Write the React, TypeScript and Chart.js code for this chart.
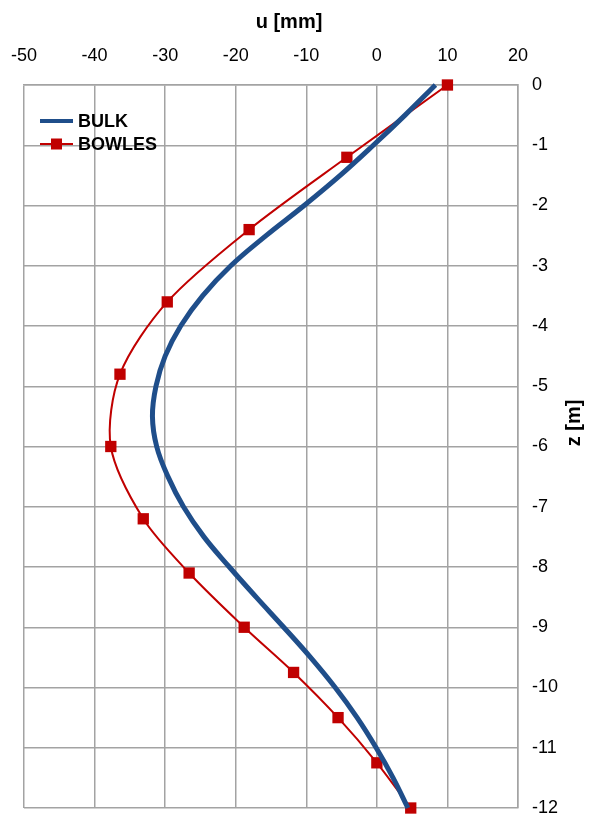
import React, { useEffect, useRef } from "react";
import { Chart, registerables } from "chart.js";

Chart.register(...registerables);

// ---- data ----
const X_TITLE = "u [mm]";
const Y_TITLE = "z [m]";
const BULK_LABEL = "BULK";
const BOWLES_LABEL = "BOWLES";

const X_MIN = -50;
const X_MAX = 20;
const X_STEP = 10;
const Z_MIN = -12;
const Z_MAX = 0;
const Z_STEP = 1;

const bulkZ = [0, -0.5, -1, -1.5, -2, -2.5, -3, -3.5, -4, -4.5, -5, -5.5, -6, -6.5, -7, -7.5, -8, -8.5, -9, -9.5, -10, -10.5, -11, -11.5, -12];
const bulkU = [8.3, 4.0, -0.5, -5.2, -10.3, -15.7, -20.7, -24.7, -27.8, -30.0, -31.3, -31.8, -31.2, -29.6, -27.4, -24.5, -20.9, -17.1, -13.2, -9.4, -5.9, -2.8, -0.1, 2.3, 4.4];

const bowlesZ = [0, -1.2, -2.4, -3.6, -4.8, -6.0, -7.2, -8.1, -9.0, -9.75, -10.5, -11.25, -12];
const bowlesU = [10, -4.25, -18.1, -29.7, -36.4, -37.7, -33.1, -26.6, -18.8, -11.8, -5.5, 0, 4.8];

// ---- styles ----
const BLUE = "#1f4e8a";
const RED = "#c00000";
const GRID = "#a3a3a3";
const FONT = "'Liberation Sans', Arial, sans-serif";

const overlay = {
  id: "overlay",
  afterDraw(chart: any) {
    const ctx = chart.ctx as CanvasRenderingContext2D;
    const a = chart.chartArea;
    ctx.save();
    ctx.fillStyle = "#000";
    ctx.font = `bold 20px ${FONT}`;
    ctx.textAlign = "center";
    ctx.textBaseline = "middle";
    ctx.fillText(X_TITLE, 289, 22);
    ctx.save();
    ctx.translate(574, 423);
    ctx.rotate(-Math.PI / 2);
    ctx.fillText(Y_TITLE, 0, 0);
    ctx.restore();

    // legend
    const lx = a.left + 16;
    const y1 = a.top + 36;
    const y2 = a.top + 59;
    ctx.lineCap = "butt";
    ctx.strokeStyle = BLUE;
    ctx.lineWidth = 4;
    ctx.beginPath();
    ctx.moveTo(lx, y1);
    ctx.lineTo(lx + 33, y1);
    ctx.stroke();
    ctx.strokeStyle = RED;
    ctx.lineWidth = 2;
    ctx.beginPath();
    ctx.moveTo(lx, y2);
    ctx.lineTo(lx + 33, y2);
    ctx.stroke();
    ctx.fillStyle = RED;
    ctx.fillRect(lx + 16.5 - 5.5, y2 - 5.5, 11, 11);
    ctx.fillStyle = "#000";
    ctx.font = `bold 18px ${FONT}`;
    ctx.textAlign = "left";
    ctx.fillText(BULK_LABEL, lx + 38, y1 + 1);
    ctx.fillText(BOWLES_LABEL, lx + 38, y2 + 1);
    ctx.restore();
  },
};

export default function App() {
  const ref = useRef<HTMLCanvasElement | null>(null);
  useEffect(() => {
    if (!ref.current) return;
    const bulk = bulkZ.map((z, i) => ({ x: bulkU[i], y: z }));
    const bowles = bowlesZ.map((z, i) => ({ x: bowlesU[i], y: z }));
    const chart = new Chart(ref.current, {
      type: "line",
      data: {
        datasets: [
          {
            label: BULK_LABEL,
            data: bulk,
            borderColor: BLUE,
            backgroundColor: BLUE,
            borderWidth: 5,
            pointRadius: 0,
            tension: 0.4,
            fill: false,
            clip: false as any,
          },
          {
            label: BOWLES_LABEL,
            data: bowles,
            borderColor: RED,
            backgroundColor: RED,
            borderWidth: 2,
            pointStyle: "rect",
            pointRadius: 8,
            pointBorderWidth: 0,
            tension: 0.3,
            fill: false,
            clip: false as any,
          },
        ],
      },
      options: {
        responsive: false,
        animation: false,
        events: [],
        layout: { padding: { left: 24, right: 0, top: 0, bottom: 8 } },
        plugins: { legend: { display: false }, tooltip: { enabled: false } },
        scales: {
          x: {
            type: "linear",
            position: "top",
            min: X_MIN,
            max: X_MAX,
            ticks: {
              stepSize: X_STEP,
              padding: 18,
              color: "#000",
              font: { family: FONT, size: 18 },
              maxRotation: 0,
            },
            grid: { color: GRID, lineWidth: 1.5, drawTicks: false },
            border: { color: GRID, width: 1.5 },
            afterFit: (s: any) => {
              s.height = 85;
              s.paddingLeft = 0;
              s.paddingRight = 0;
            },
          },
          y: {
            type: "linear",
            position: "right",
            min: Z_MIN,
            max: Z_MAX,
            ticks: {
              stepSize: Z_STEP,
              padding: 14,
              color: "#000",
              font: { family: FONT, size: 18 },
            },
            grid: { color: GRID, lineWidth: 1.5, drawTicks: false },
            border: { color: GRID, width: 1.5 },
            afterFit: (s: any) => {
              s.width = 71;
              s.paddingTop = 0;
              s.paddingBottom = 0;
            },
          },
        },
      } as any,
      plugins: [overlay],
    });
    return () => chart.destroy();
  }, []);
  return (
    <div style={{ position: "absolute", left: 0, top: 0, width: 589, height: 816, background: "#fff" }}>
      <canvas ref={ref} width={589} height={816} style={{ display: "block" }} />
    </div>
  );
}
